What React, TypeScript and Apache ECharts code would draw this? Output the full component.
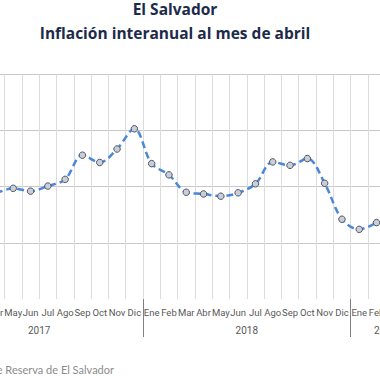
import React, { useEffect, useRef } from "react";
import * as echarts from "echarts";

const months = [
  "Ene", "Feb", "Mar", "Abr", "May", "Jun", "Jul", "Ago", "Sep", "Oct", "Nov", "Dic",
  "Ene", "Feb", "Mar", "Abr", "May", "Jun", "Jul", "Ago", "Sep", "Oct", "Nov", "Dic",
  "Ene", "Feb", "Mar", "Abr",
];
const years = ["2017", "2018", "2019"];
const monthsPerYear = [12, 12, 4];
// Inflación interanual (%) — off-frame months left empty
const inflation: (number | null)[] = [
  null, null, null, 0.88, 0.97, 0.92, 1.01, 1.13, 1.56, 1.43, 1.67, 2.03,
  1.41, 1.21, 0.9, 0.87, 0.83, 0.89, 1.05, 1.44, 1.38, 1.5, 1.06, 0.42,
  0.24, 0.36, null, null,
];
const yTicks = [-1, 0, 1, 2, 3];
const titleText = "El Salvador";
const subtitleText = "Inflación interanual al mes de abril";
const sourceText = "Fuente: Banco Central de Reserva de El Salvador";

export default function App() {
  const ref = useRef<HTMLDivElement>(null);
  useEffect(() => {
    if (!ref.current) return;
    const chart = echarts.init(ref.current, null, { renderer: "svg" });

    const slots = months.length * 2 + 1;
    const yearSlotLabels: string[] = new Array(slots).fill("");
    const boundaries = new Set<number>([0]);
    let start = 0;
    years.forEach((y, i) => {
      const n = monthsPerYear[i];
      yearSlotLabels[start * 2 + n] = y;
      start += n;
      boundaries.add(start * 2);
    });

    const titleFont = "'Open Sans'";
    const axisFont = "Roboto";
    chart.setOption({
      animation: false,
      backgroundColor: "#ffffff",
      title: {
        left: "center",
        top: 0,
        padding: 0,
        text: titleText,
        subtext: subtitleText,
        itemGap: 6,
        textStyle: { fontFamily: titleFont, fontSize: 15.5, fontWeight: "bold", color: "#1c2b4a", lineHeight: 18 },
        subtextStyle: { fontFamily: titleFont, fontSize: 15.5, fontWeight: "bold", color: "#1c2b4a", lineHeight: 18 },
      },
      graphic: [
        {
          type: "text",
          right: 326,
          top: 364,
          style: { text: sourceText, fontFamily: "Lato", fontSize: 11, fill: "#8c8c8c" },
        },
      ],
      grid: { left: 25.4, right: 20.2, top: 74.3, bottom: 81, containLabel: false },
      xAxis: [
        {
          type: "category",
          data: months,
          boundaryGap: true,
          axisLine: { show: false },
          axisTick: { show: false },
          axisLabel: { interval: 0, fontFamily: axisFont, fontSize: 9.5, color: "#595959", margin: 8 },
          splitLine: { show: true, interval: 0, lineStyle: { color: "#dcdcdc", width: 1 } },
        },
        {
          type: "category",
          data: yearSlotLabels,
          boundaryGap: false,
          position: "bottom",
          axisLine: { show: false },
          axisTick: {
            show: true,
            length: 38,
            interval: (index: number) => boundaries.has(index),
            lineStyle: { color: "#808080", width: 1 },
          },
          axisLabel: { interval: 0, fontFamily: axisFont, fontSize: 10, color: "#595959", margin: 26 },
          splitLine: { show: false },
        },
      ],
      yAxis: {
        type: "value",
        min: yTicks[0],
        max: yTicks[yTicks.length - 1],
        interval: 1,
        axisLabel: { show: false },
        axisLine: { show: false },
        axisTick: { show: false },
        splitLine: {
          show: true,
          lineStyle: { color: ["rgba(0,0,0,0)", "#c8c8c8", "#c8c8c8", "#c8c8c8", "#c8c8c8"], width: 1 },
        },
      },
      series: [
        {
          type: "line",
          xAxisIndex: 0,
          data: inflation,
          smooth: 0.35,
          connectNulls: false,
          symbol: "circle",
          symbolSize: 6.5,
          lineStyle: { color: "#4a87d9", width: 2.5, type: [7, 4] },
          itemStyle: { color: "#c9ced8", borderColor: "#4d5566", borderWidth: 1 },
        },
      ],
    });
    return () => chart.dispose();
  }, []);

  return (
    <div style={{ position: "fixed", left: 0, top: 0, width: 380, height: 380, overflow: "hidden", background: "#fff" }}>
      <div ref={ref} style={{ position: "absolute", left: -90, top: 0, width: 530, height: 380 }} />
    </div>
  );
}
